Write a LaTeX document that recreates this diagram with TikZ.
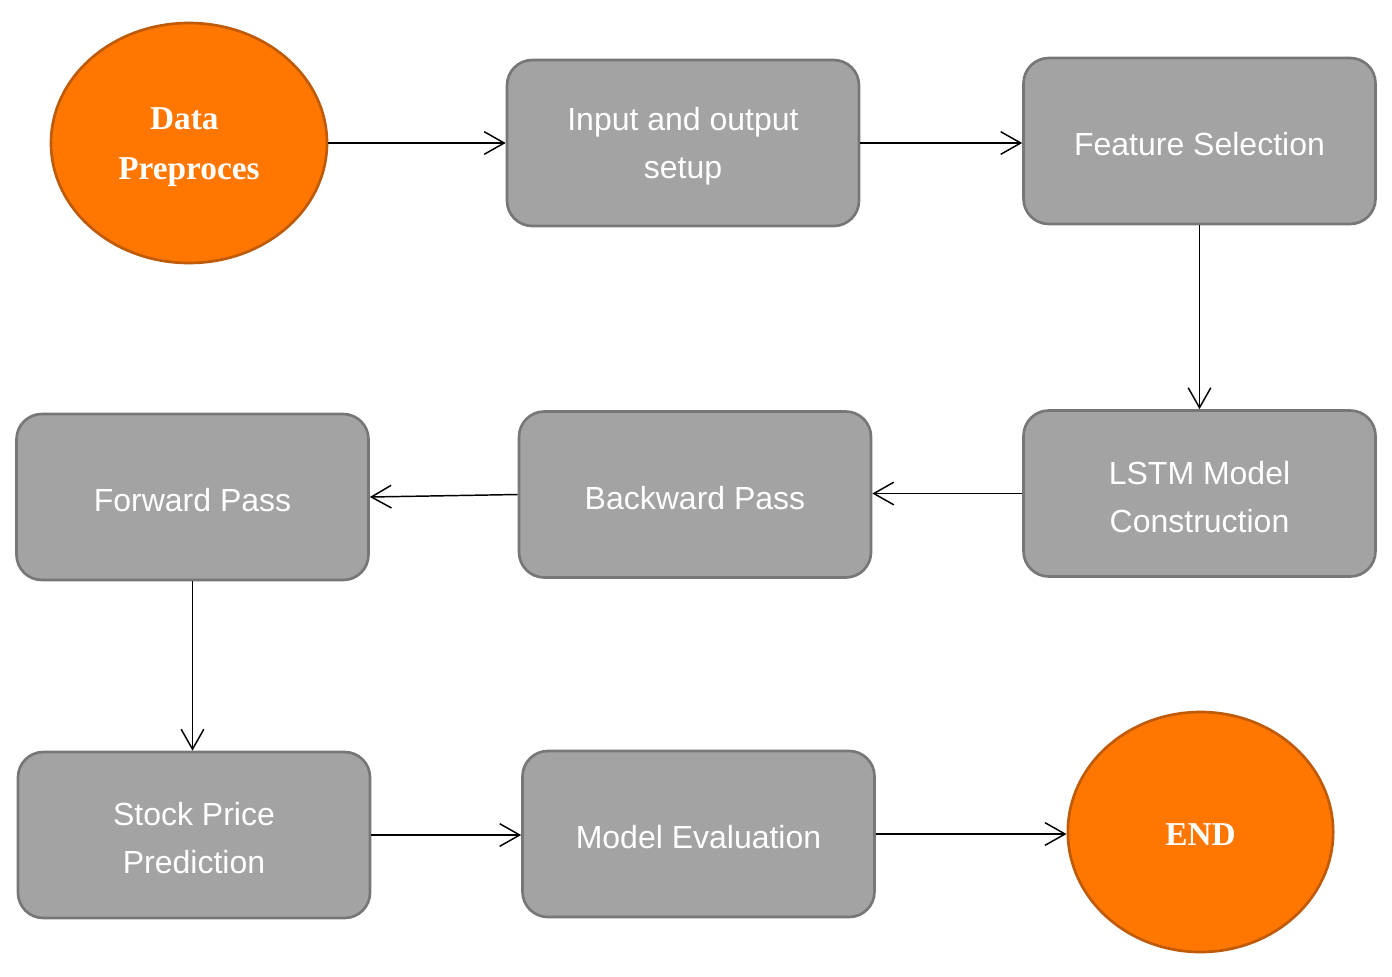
\documentclass[tikz,border=0pt]{standalone}
\usepackage{fontspec}
\setmainfont{Liberation Sans}
\newfontfamily\serifbold{Liberation Serif}
\usetikzlibrary{shapes.geometric,arrows.meta}
\definecolor{orfill}{HTML}{FF7700}
\definecolor{ordraw}{HTML}{BF5A08}
\definecolor{gyfill}{HTML}{A3A3A3}
\definecolor{gydraw}{HTML}{777777}
\tikzset{
  boxnode/.style={draw=gydraw, fill=gyfill, line width=2pt, rounded corners=19pt,
    minimum width=264pt, minimum height=124.5pt, inner sep=0pt},
  boxtext/.style={align=center, text=white, inner sep=0pt, yshift=-2.5pt,
    font=\fontsize{24pt}{36pt}\selectfont},
  ovalnode/.style={ellipse, draw=ordraw, fill=orfill, line width=2pt, inner sep=0pt,
    minimum height=180pt},
  ovaltext/.style={align=center, text=white, inner sep=0pt, yshift=-3pt,
    font=\serifbold\bfseries\fontsize{25pt}{37.5pt}\selectfont},
  conn/.style={line width=1.1pt, -{Straight Barb[length=15pt,width=17pt,line width=1.1pt]}}
}
\begin{document}
\begin{tikzpicture}[x=0.75pt,y=-0.75pt]
\useasboundingbox (0,0) rectangle (1392,976);
\fill[white] (0,0) rectangle (1392,976);
\node[ovalnode, minimum width=207pt, label={[ovaltext]center:{\hspace*{-7pt}Data\\Preproces}}] (data) at (189,143) {};
\node[boxnode, label={[boxtext]center:{Input and output\\setup}}] (input) at (683,143) {};
\node[boxnode, label={[boxtext]center:{Feature Selection}}] (feat) at (1199.5,141) {};
\node[boxnode, label={[boxtext]center:{LSTM Model\\Construction}}] (lstm) at (1199.5,493.5) {};
\node[boxnode, label={[boxtext]center:{Backward Pass}}] (back) at (695,494.5) {};
\node[boxnode, label={[boxtext]center:{Forward Pass}}] (fwd) at (192.5,497) {};
\node[boxnode, label={[boxtext]center:{Stock Price\\Prediction}}] (stock) at (194,835) {};
\node[boxnode, label={[boxtext]center:{Model Evaluation}}] (eval) at (698.5,834) {};
\node[ovalnode, minimum width=199pt, label={[ovaltext, yshift=1pt]center:{END}}] (end) at (1200.5,832) {};
\draw[conn] (data.east) -- (input.west);
\draw[conn] (input.east) -- (feat.west |- input.east);
\draw[conn] (feat.south) -- (lstm.north);
\draw[conn] (lstm.west) -- (back.east |- lstm.west);
\draw[conn] (back.west) -- (fwd.east);
\draw[conn] (fwd.south) -- (fwd.south |- stock.north);
\draw[conn] (stock.east) -- (eval.west |- stock.east);
\draw[conn] (eval.east) -- (end.west |- eval.east);
\end{tikzpicture}
\end{document}
